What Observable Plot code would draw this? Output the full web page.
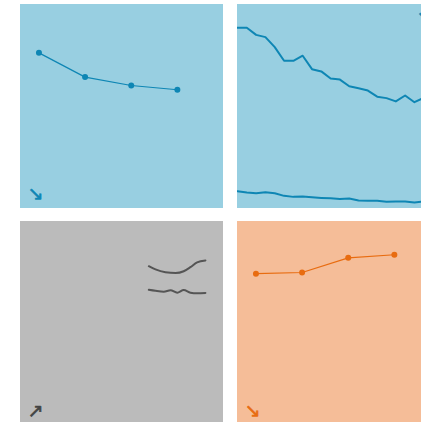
<!DOCTYPE html>
<html>
<head>
<meta charset="utf-8">
<script src="https://cdn.jsdelivr.net/npm/d3@7"></script>
<script src="https://cdn.jsdelivr.net/npm/@observablehq/plot@0.6"></script>
<style>
  html, body { margin: 0; padding: 0; background: #ffffff; }
  #wrap { position: relative; width: 421px; height: 422px; overflow: hidden; font-family: "DejaVu Sans", sans-serif; }
  .panel { position: absolute; width: 203px; height: 204px; }
  .panel svg { display: block; }
</style>
</head>
<body>
<div id="wrap">
  <div class="panel" id="p1" style="left:20px; top:4px;"></div>
  <div class="panel" id="p2" style="left:237px; top:4px;"></div>
  <div class="panel" id="p3" style="left:20px; top:221px;"></div>
  <div class="panel" id="p4" style="left:237px; top:221px;"></div>
</div>
<script>
// Panel 1 (blue, 4 points)
const p1X = [1, 2, 3, 4];
const p1Y = [76.3, 64.4, 60.3, 58.2];
// Panel 2 (blue, two long series)
const p2X = d3.range(0, 21);
const p2Upper = [88.6, 88.6, 85.1, 84.0, 79.1, 72.4, 72.4, 74.9, 68.3, 67.2, 63.7, 63.2, 59.9, 58.9, 57.8, 54.8, 54.1, 52.5, 55.4, 52.1, 54.3];
const p2Lower = [8.5, 7.8, 7.5, 8.0, 7.5, 6.2, 5.7, 5.9, 5.5, 5.2, 5.0, 4.7, 4.9, 3.9, 3.8, 3.8, 3.3, 3.4, 3.4, 2.9, 3.4];
// Panel 3 (grey, two short series)
const p3UpperX = [63.2, 66.5, 71.4, 76.4, 80.4, 83.7, 87.0, 91.1];
const p3UpperY = [78.1, 76.5, 75.1, 74.7, 75.6, 77.6, 80.0, 80.9];
const p3LowerX = [63.2, 66.5, 70.6, 73.9, 77.2, 80.4, 83.7, 87.0, 91.1];
const p3LowerY = [66.5, 66.0, 65.6, 66.3, 65.1, 66.4, 65.1, 64.8, 65.0];
// Panel 4 (orange, 4 points)
const p4X = [1, 2, 3, 4];
const p4Y = [74.4, 75.0, 82.2, 83.7];

const W = 203, H = 204;
const blueBg = "#98cfe1", blue = "#0e86b4";
const greyBg = "#bbbbbb", grey = "#555555";
const orangeBg = "#f5bd98", orange = "#e86c10";

function base(bg, xDomain, marks) {
  return Plot.plot({
    width: W, height: H,
    margin: 0,
    x: { domain: xDomain, axis: null },
    y: { domain: [0, 100], axis: null },
    style: { background: bg, overflow: "hidden" },
    marks
  });
}

const arrowStyle = (txt, color, anchor, dx, dy) =>
  Plot.text([txt], { frameAnchor: anchor, text: d => d, fill: color, stroke: color, strokeWidth: 0.6, fontSize: 19, dx, dy, fontFamily: "DejaVu Sans" });

const d1 = p1X.map((x, i) => ({ x, y: p1Y[i] }));
document.getElementById("p1").append(base(blueBg, [0.6, 5.0], [
  Plot.line(d1, { x: "x", y: "y", stroke: blue, strokeWidth: 1.2 }),
  Plot.dot(d1, { x: "x", y: "y", fill: blue, r: 3 }),
  arrowStyle("↘", blue, "bottom-left", 7, -9)
]));

const d2u = p2X.map((x, i) => ({ x, y: p2Upper[i] }));
const d2l = p2X.map((x, i) => ({ x, y: p2Lower[i] }));
document.getElementById("p2").append(base(blueBg, [0, 21.8], [
  Plot.line(d2u, { x: "x", y: "y", stroke: blue, strokeWidth: 2 }),
  Plot.line(d2l, { x: "x", y: "y", stroke: blue, strokeWidth: 2 }),
  arrowStyle("↘", blue, "top-right", -8, 6)
]));

const d3u = p3UpperX.map((x, i) => ({ x, y: p3UpperY[i] }));
const d3l = p3LowerX.map((x, i) => ({ x, y: p3LowerY[i] }));
document.getElementById("p3").append(base(greyBg, [0, 100], [
  Plot.line(d3u, { x: "x", y: "y", stroke: grey, strokeWidth: 2, curve: "monotone-x" }),
  Plot.line(d3l, { x: "x", y: "y", stroke: grey, strokeWidth: 2, curve: "monotone-x" }),
  arrowStyle("↗", "#444444", "bottom-left", 7, -9)
]));

const d4 = p4X.map((x, i) => ({ x, y: p4Y[i] }));
document.getElementById("p4").append(base(orangeBg, [0.6, 5.0], [
  Plot.line(d4, { x: "x", y: "y", stroke: orange, strokeWidth: 1.2 }),
  Plot.dot(d4, { x: "x", y: "y", fill: orange, r: 3 }),
  arrowStyle("↘", orange, "bottom-left", 7, -9)
]));
</script>
</body>
</html>
